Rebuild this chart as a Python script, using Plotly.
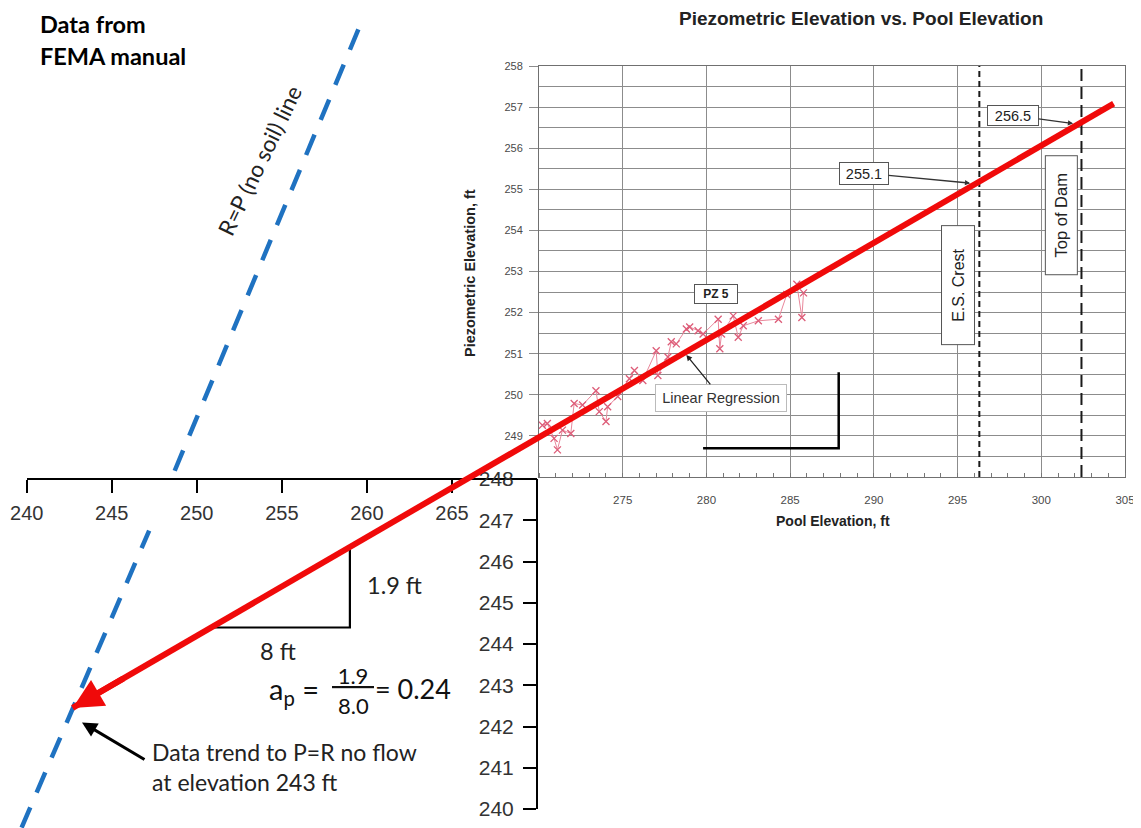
import plotly.graph_objects as go

W, H = 1141, 828
OFF = 8  # page body margin of the rendered html

# ---------------- scanned FEMA chart (inner) data ----------------
pool_elevation = [270.2, 270.5, 270.9, 271.1, 271.4, 271.9, 272.1, 272.6, 273.4, 273.6,
                  274.0, 274.1, 274.7, 275.4, 275.7, 276.2, 277.0, 277.1, 277.7, 277.9,
                  278.2, 278.8, 279.0, 279.5, 279.8, 280.7, 280.8, 280.9, 281.6, 281.9,
                  282.2, 283.1, 284.3, 284.8, 285.4, 285.7, 285.8]
piezometric_elevation = [249.26, 249.30, 248.94, 248.66, 249.14, 249.06, 249.79, 249.75, 250.10, 249.59,
                         249.35, 249.71, 249.96, 250.39, 250.59, 250.35, 251.07, 250.47, 250.92, 251.29,
                         251.24, 251.60, 251.65, 251.56, 251.48, 251.84, 251.12, 251.48, 251.92, 251.40,
                         251.68, 251.80, 251.84, 252.44, 252.69, 251.88, 252.48]
inner_x_ticks = [275, 280, 285, 290, 295, 300, 305]
inner_y_ticks = [249, 250, 251, 252, 253, 254, 255, 256, 257, 258]
es_crest_pool = 296.3
top_of_dam_pool = 302.4
inner_vline_y = [248, 258]
crest_label_tip = (295.75, 255.15)
dam_label_tip = (301.9, 256.6)
regression_label_tip = (278.8, 250.97)
inner_slope_x = [279.8, 287.9, 287.9]
inner_slope_y = [248.7, 248.7, 250.55]

# ---------------- annotated extension (outer) data ----------------
outer_x_ticks = [240, 245, 250, 255, 260, 265]
outer_y_ticks = [240, 241, 242, 243, 244, 245, 246, 247, 248]
regression_x = [303.9, 242.7]      # upper end -> arrow tip
regression_y = [257.1, 242.45]
rp_line_x = [239.7, 247.2, None, 248.7, 259.6]
rp_line_y = [239.55, 246.75, None, 248.2, 259.0]
slope_tri_x = [251.0, 259.0, 259.0]
slope_tri_y = [244.4, 244.4, 246.3]
no_flow_tip = (243.25, 242.1)

# ---------------- pixel layout helpers (screen pixels -> paper) ----------------
def px(x):
    return (x - OFF) / W

def py(y):
    return 1 - (y - OFF) / H

# outer scale anchors (screen pixels)
OX0, OX1, OY0, OY1 = 26.7, 537.0, 809.0, 479.0   # 240, 270 ; 240, 248
sx = (OX1 - OX0) / 30.0
sy = (OY0 - OY1) / 8.0
x3_range = [240 + (OFF - OX0) / sx, 240 + (OFF + W - OX0) / sx]
y3_range = [240 + (OY0 - OFF - H) / sy, 240 + (OY0 - OFF) / sy]

ARIAL = "Liberation Sans"
CAL = "Lato"
GRID = "#8c8c8c"

fig = go.Figure()

# inner data series
fig.add_trace(go.Scatter(x=pool_elevation, y=piezometric_elevation, mode="lines+markers",
                         line=dict(color="#e9879b", width=1),
                         marker=dict(symbol="x-thin", size=7, line=dict(color="#dd5c78", width=1.3)),
                         xaxis="x", yaxis="y", showlegend=False, hoverinfo="skip"))
fig.add_trace(go.Scatter(x=[es_crest_pool, es_crest_pool], y=inner_vline_y, mode="lines",
                         line=dict(color="#1a1a1a", width=2, dash="6px,4px"),
                         xaxis="x", yaxis="y", showlegend=False, hoverinfo="skip"))
fig.add_trace(go.Scatter(x=[top_of_dam_pool, top_of_dam_pool], y=inner_vline_y, mode="lines",
                         line=dict(color="#1a1a1a", width=2, dash="12px,6px"),
                         xaxis="x", yaxis="y", showlegend=False, hoverinfo="skip"))
fig.add_trace(go.Scatter(x=inner_slope_x, y=inner_slope_y, mode="lines",
                         line=dict(color="black", width=2.5),
                         xaxis="x", yaxis="y", showlegend=False, hoverinfo="skip"))

# outer slope triangle
fig.add_trace(go.Scatter(x=slope_tri_x, y=slope_tri_y, mode="lines",
                         line=dict(color="black", width=2.2),
                         xaxis="x2", yaxis="y2", showlegend=False, hoverinfo="skip"))

# overlay lines
fig.add_trace(go.Scatter(x=rp_line_x, y=rp_line_y, mode="lines",
                         line=dict(color="#1f72c1", width=4.5, dash="22px,16px"),
                         xaxis="x3", yaxis="y3", showlegend=False, hoverinfo="skip", connectgaps=False))
fig.add_trace(go.Scatter(x=regression_x, y=regression_y, mode="lines",
                         line=dict(color="#f00a0a", width=6),
                         xaxis="x3", yaxis="y3", showlegend=False, hoverinfo="skip"))

ann = []
# red arrow head
tipx, tipy = regression_x[-1], regression_y[-1]
ann.append(dict(x=tipx, y=tipy, xref="x3", yref="y3",
                ax=tipx + 0.05 * (regression_x[0] - tipx), ay=tipy + 0.05 * (regression_y[0] - tipy),
                axref="x3", ayref="y3", text="", showarrow=True, arrowhead=2, arrowsize=1.0,
                arrowwidth=6, arrowcolor="#f00a0a", standoff=0))


def txt(x, y, text, size, family, color="#222", xanchor="center", angle=0, **kw):
    return dict(x=px(x), y=py(y), xref="paper", yref="paper", xanchor=xanchor, yanchor="middle",
                showarrow=False, text=text, textangle=angle,
                font=dict(family=family, size=size, color=color), **kw)


# inner chart texts
ann.append(txt(861, 19, "<b>Piezometric Elevation vs. Pool Elevation</b>", 19, ARIAL, "#222"))
ann.append(txt(470, 273, "<b>Piezometric Elevation, ft</b>", 14.5, ARIAL, "#222", angle=-90))
ann.append(txt(833, 521, "<b>Pool Elevation, ft</b>", 14, ARIAL, "#222"))
box = dict(bgcolor="white", bordercolor="#555", borderwidth=1)
ann.append(dict(x=295.03, y=252.67, xref="x", yref="y", showarrow=False, textangle=-90,
                text="E.S. Crest", width=116, height=30, font=dict(family=ARIAL, size=16, color="#222"), **box))
ann.append(dict(x=301.18, y=254.37, xref="x", yref="y", showarrow=False, textangle=-90,
                text="Top of Dam", width=116, height=29, font=dict(family=ARIAL, size=16.5, color="#222"), **box))
ann.append(dict(x=crest_label_tip[0], y=crest_label_tip[1], xref="x", yref="y", ax=-106, ay=-10,
                text="255.1", showarrow=True, arrowhead=2, arrowsize=0.8, arrowwidth=1.3, arrowcolor="#333",
                width=46, height=19, font=dict(family=ARIAL, size=14.5, color="#222"), **box))
ann.append(dict(x=dam_label_tip[0], y=dam_label_tip[1], xref="x", yref="y", ax=-60, ay=-8,
                text="256.5", showarrow=True, arrowhead=2, arrowsize=0.8, arrowwidth=1.3, arrowcolor="#333",
                width=48, height=17, font=dict(family=ARIAL, size=14.5, color="#222"), **box))
ann.append(dict(x=280.6, y=252.45, xref="x", yref="y", showarrow=False,
                text="<b>PZ 5</b>", width=40, height=16, font=dict(family=ARIAL, size=12, color="#222"), **box))
ann.append(dict(x=regression_label_tip[0], y=regression_label_tip[1], xref="x", yref="y", ax=35, ay=43,
                text="Linear Regression", showarrow=True, arrowhead=2, arrowsize=0.9, arrowwidth=1.3,
                arrowcolor="#222", width=128, height=24, font=dict(family=ARIAL, size=14.5, color="#333"),
                bgcolor="white", bordercolor="#bbb", borderwidth=1))

# outer annotations
ann.append(txt(38, 24, "<b>Data from</b>", 23.5, CAL, "black", xanchor="left"))
ann.append(txt(38, 56, "<b>FEMA manual</b>", 23.5, CAL, "black", xanchor="left"))
ann.append(txt(260, 161, "R=P (no soil) line", 22.5, CAL, "#222", angle=-64.3))
ann.append(txt(394, 585, "1.9 ft", 23.5, CAL, "#222"))
ann.append(txt(278, 651, "8 ft", 23.5, CAL, "#222"))
ann.append(txt(321, 690, "a<sub>p</sub> =", 29, CAL, "#111", xanchor="right"))
ann.append(txt(353, 675, "<u>&nbsp;1.9&nbsp;</u>", 22, CAL, "#111"))
ann.append(txt(353, 705, "8.0", 22, CAL, "#111"))
ann.append(txt(373, 688, "= 0.24", 27, CAL, "#111", xanchor="left"))
ann.append(txt(150, 752, "Data trend to P=R no flow", 23, CAL, "#222", xanchor="left"))
ann.append(txt(150, 782, "at elevation 243 ft", 23, CAL, "#222", xanchor="left"))
ann.append(dict(x=no_flow_tip[0], y=no_flow_tip[1], xref="x3", yref="y3", ax=64, ay=38,
                text="", showarrow=True, arrowhead=2, arrowsize=1, arrowwidth=3, arrowcolor="black"))

fig.update_layout(
    template="none",
    width=W, height=H, margin=dict(l=0, r=0, t=0, b=0, pad=0, autoexpand=False),
    paper_bgcolor="white", plot_bgcolor="rgba(0,0,0,0)", showlegend=False,
    annotations=ann,
    xaxis=dict(domain=[px(539), px(1125)], range=[270, 305], anchor="y", automargin=False,
               tickvals=inner_x_ticks, showgrid=True, gridcolor=GRID, gridwidth=1,
               showline=True, linecolor="#707070", linewidth=1, mirror=True, ticks="",
               ticklabelstandoff=12, zeroline=False,
               tickfont=dict(family=ARIAL, size=11.5, color="#4a4a4a"),
               minor=dict(dtick=1, tick0=270, ticks="inside", ticklen=4, tickcolor="#777", showgrid=False)),
    yaxis=dict(domain=[py(477), py(66)], range=[248, 258], anchor="x", automargin=False,
               tickvals=inner_y_ticks, showgrid=True, gridcolor=GRID, gridwidth=1,
               showline=True, linecolor="#707070", linewidth=1, mirror=True,
               ticks="outside", ticklen=9, tickcolor=GRID, ticklabelstandoff=4, zeroline=False,
               tickfont=dict(family=ARIAL, size=11, color="#4a4a4a"),
               minor=dict(dtick=0.5, tick0=248, ticks="", showgrid=True, gridcolor=GRID, gridwidth=1)),
    xaxis2=dict(domain=[px(OX0), px(OX1)], range=[240, 270], anchor="free", position=py(OY1),
                side="bottom", tickvals=outer_x_ticks, ticks="outside", ticklen=13, tickwidth=2,
                tickcolor="black", showline=True, linecolor="black", linewidth=2, showgrid=False,
                zeroline=False, ticklabelstandoff=3, automargin=False,
                tickfont=dict(family=ARIAL, size=20, color="#333")),
    yaxis2=dict(domain=[py(OY0), py(OY1)], range=[240, 248], anchor="free", position=px(OX1),
                side="left", tickvals=outer_y_ticks, ticks="outside", ticklen=13, tickwidth=2,
                tickcolor="black", showline=True, linecolor="black", linewidth=2, showgrid=False,
                zeroline=False, ticklabelstandoff=5, automargin=False,
                tickfont=dict(family=ARIAL, size=21, color="#333")),
    xaxis3=dict(domain=[0, 1], range=x3_range, anchor="y3", visible=False, automargin=False),
    yaxis3=dict(domain=[0, 1], range=y3_range, anchor="x3", visible=False, automargin=False),
)

fig.write_html("out.html")
